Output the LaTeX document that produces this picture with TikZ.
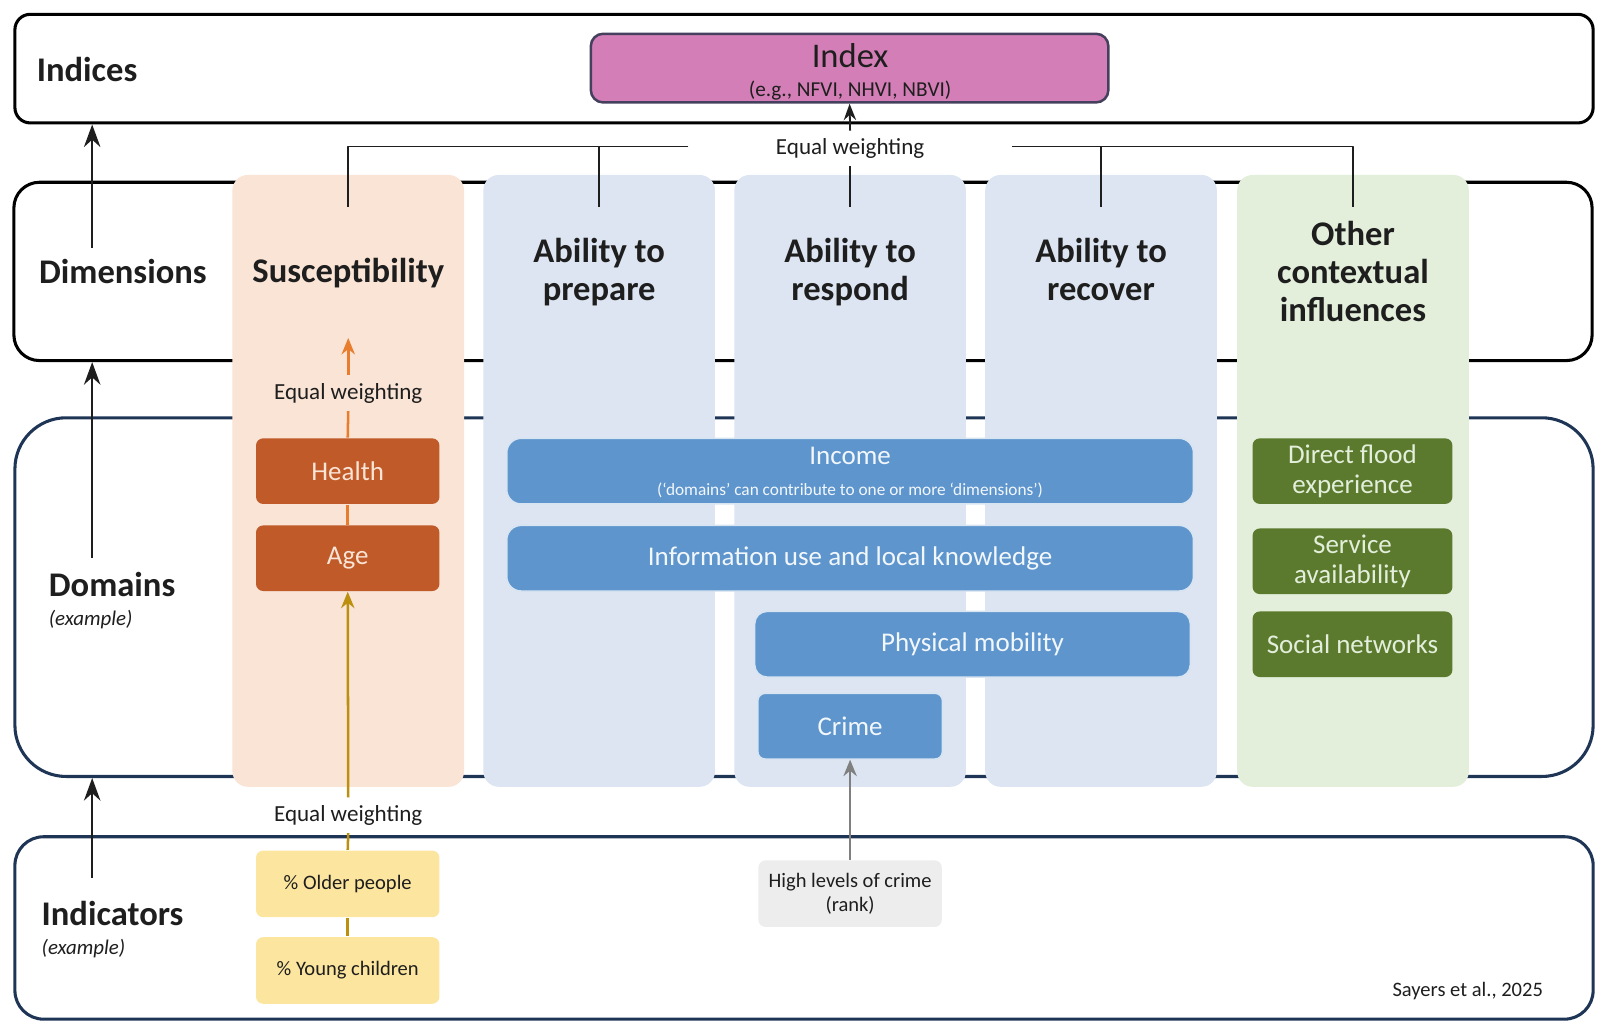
\documentclass[tikz,border=0pt]{standalone}
\usepackage{fontspec}
\setmainfont{Carlito}
\usetikzlibrary{arrows.meta}

\definecolor{peach}{HTML}{F9E4D6}
\definecolor{paleblue}{HTML}{DCE5F1}
\definecolor{palegreen}{HTML}{E3EFDB}
\definecolor{rust}{HTML}{C05A28}
\definecolor{barblue}{HTML}{5E95CD}
\definecolor{olive}{HTML}{5B7A2E}
\definecolor{sand}{HTML}{FCE59E}
\definecolor{pinkidx}{HTML}{D37EB6}
\definecolor{idxedge}{HTML}{45405E}
\definecolor{navy}{HTML}{1F3556}
\definecolor{amber}{HTML}{BC8F0E}
\definecolor{carrot}{HTML}{E87D2E}
\definecolor{ink}{HTML}{1E1E1E}

\begin{document}
\begin{tikzpicture}[x=0.01cm,y=-0.01cm,>={Stealth[length=2.2mm,width=1.6mm]}, line join=round,
    layer/.style={draw, line width=0.85pt, rounded corners=#1, minimum width=154mm, inner sep=0},
    layername/.style={font=\fontsize{9.6}{11}\selectfont\bfseries, text=ink, inner sep=1mm},
    column/.style={rounded corners=1.5mm, minimum width=22.6mm, minimum height=59.7mm, inner sep=0},
    header/.style={font=\fontsize{9.6}{10.6}\selectfont\bfseries, text=ink, align=center},
    weight/.style={font=\fontsize{6.4}{7}\selectfont, text=ink, inner sep=0.7mm},
    dom/.style={rounded corners=0.7mm, minimum height=6.4mm, inner sep=0, align=center,
      font=\fontsize{7.5}{8.3}\selectfont},
    ind/.style={rounded corners=0.7mm, minimum width=17.9mm, minimum height=6.5mm, inner sep=0,
      align=center, text=ink, font=\fontsize{5.7}{6.6}\selectfont},
    bracket/.style={line width=0.5pt, ink},
    spinearrow/.style={->, line width=0.7pt, ink}]
  \useasboundingbox (0,0) rectangle (1568,1000);
  \def\exfont{\fontsize{5.8}{7}\selectfont\mdseries\itshape}

  % layers
  \node[layer=1.5mm, minimum height=10.6mm] (indices) at (785,67) {};
  \node[layer=2.5mm, minimum height=17.4mm] (dims) at (784,265) {};
  \node[layer=5mm, draw=navy, minimum height=35mm] (domains) at (785,583) {};
  \node[layer=2.8mm, draw=navy, minimum height=17.8mm] (indics) at (785,906) {};

  \node[layername] (indlbl) at (85,68) {Indices};
  \node[layername] (dimlbl) at (120,265) {Dimensions};
  \node[layername, inner ysep=1.3mm, anchor=north west, align=left] (domlbl) at (37,545) {Domains\\[-1mm]\exfont(example)};
  \node[layername, inner ysep=2.2mm, anchor=north west, align=left] (indclbl) at (30,857) {Indicators\\[-1mm]\exfont(example)};

  \coordinate (spine) at (90,0);
  \draw[spinearrow] (spine |- dimlbl.north) -- (spine |- indices.south);
  \draw[spinearrow] (spine |- domlbl.north) -- (spine |- dims.south);
  \draw[spinearrow] (spine |- indclbl.north) -- (spine |- domains.south);

  % index
  \node[fill=pinkidx, draw=idxedge, line width=0.7pt, rounded corners=1.2mm,
    minimum width=50.5mm, minimum height=6.7mm] (index) at (829.5,66.5) {};
  \node[font=\fontsize{9.6}{11}\selectfont, text=ink] (idxname) at (830,54) {Index};
  \node[font=\fontsize{5.9}{7}\selectfont, text=ink] (idxeg) at (830,88) {(e.g., NFVI, NHVI, NBVI)};

  % dimensions
  \node[column, fill=peach] (susc) at (340,469.5) {};
  \node[column, fill=paleblue] (prep) at (585,469.5) {};
  \node[column, fill=paleblue] (resp) at (830,469.5) {};
  \node[column, fill=paleblue] (reco) at (1075,469.5) {};
  \node[column, fill=palegreen] (other) at (1321,469.5) {};

  \node[header] (suschead) at (340,267) {Susceptibility};
  \node[header] (prephead) at (585,266) {Ability to\\prepare};
  \node[header] (resphead) at (830,266) {Ability to\\respond};
  \node[header] (recohead) at (1075,263) {Ability to\\recover};
  \node[header] (otherhead) at (1321,265) {Other\\contextual\\influences};

  % equal weighting into the index
  \node[weight] (ewtop) at (830,145) {Equal weighting};
  \coordinate (brl) at (672,143);
  \coordinate (brr) at (988,143);
  \coordinate (footline) at (0,202);
  \draw[bracket] (brl) -| (susc |- footline);
  \draw[bracket] (prep |- brl) -- (prep |- footline);
  \draw[bracket] (ewtop.south) -- (resp |- footline);
  \draw[bracket] (brr) -| (other |- footline);
  \draw[bracket] (reco |- brr) -- (reco |- footline);
  \draw[->, line width=0.5pt, ink, >={Stealth[length=1.6mm,width=1.2mm]}] (ewtop.north) -- (index.south);

  % domains
  \node[dom, fill=rust, text=peach, minimum width=17.9mm] (health) at (339.5,460) {Health};
  \node[dom, fill=rust, text=peach, minimum width=17.9mm] (age) at (339.5,545) {Age};

  \node[dom, fill=barblue, draw=white!75!barblue, minimum width=67mm, rounded corners=1.4mm] (income) at (830,460) {};
  \node[font=\fontsize{7.5}{8.3}\selectfont, text=white!92!barblue] (incname) at (830,445) {Income};
  \node[font=\fontsize{4.8}{5.5}\selectfont, text=white!92!barblue] (incnote) at (830,479) {(`domains' can contribute to one or more `dimensions')};
  \node[dom, fill=barblue, draw=white!75!barblue, minimum width=67mm, rounded corners=1.4mm, text=white!92!barblue] (info) at (830,545) {Information use and local knowledge};
  \node[dom, fill=barblue, draw=white!75!barblue, minimum width=42.5mm, rounded corners=1.2mm, text=white!92!barblue] (mobility) at (949.5,629) {Physical mobility};
  \node[dom, fill=barblue, draw=white!75!barblue, minimum width=18mm, text=white!92!barblue] (crime) at (830,709) {Crime};

  \node[dom, fill=olive, text=palegreen, minimum width=19.5mm] (flood) at (1320.5,460) {Direct flood\\experience};
  \node[dom, fill=olive, text=palegreen, minimum width=19.5mm] (service) at (1320.5,548) {Service\\availability};
  \node[dom, fill=olive, text=palegreen, minimum width=19.5mm] (social) at (1320.5,629) {Social networks};

  \node[weight] (ewsus) at (340,384) {Equal weighting};
  \coordinate (sustip) at (340,330);
  \draw[->, carrot, line width=0.7pt, >={Stealth[length=1.6mm,width=1.3mm]}] (ewsus.north) -- (sustip);
  \draw[carrot, line width=0.7pt] (health.north) -- (ewsus.south);
  \draw[carrot, line width=0.7pt] (health.south) -- (age.north);

  % indicators
  \node[ind, fill=sand] (older) at (339.5,863) {\% Older people};
  \node[ind, fill=sand] (young) at (339.5,947.5) {\% Young children};
  \node[ind, fill=black!7] (crimeind) at (830,872.5) {High levels of crime\\(rank)};

  \node[weight] (ewind) at (340,796) {Equal weighting};
  \draw[->, amber, line width=0.7pt, >={Stealth[length=1.6mm,width=1.3mm]}] (ewind.north) -- (age.south);
  \draw[amber, line width=0.7pt] (ewind.south) -- (older.north);
  \draw[amber, line width=0.7pt] (older.south) -- (young.north);
  \draw[->, black!50, line width=0.7pt, >={Stealth[length=1.6mm,width=1.3mm]}] (crimeind.north) -- (crime.south);

  \node[font=\fontsize{5.7}{7}\selectfont, text=ink] (source) at (1433,968) {Sayers et al., 2025};
\end{tikzpicture}
\end{document}
